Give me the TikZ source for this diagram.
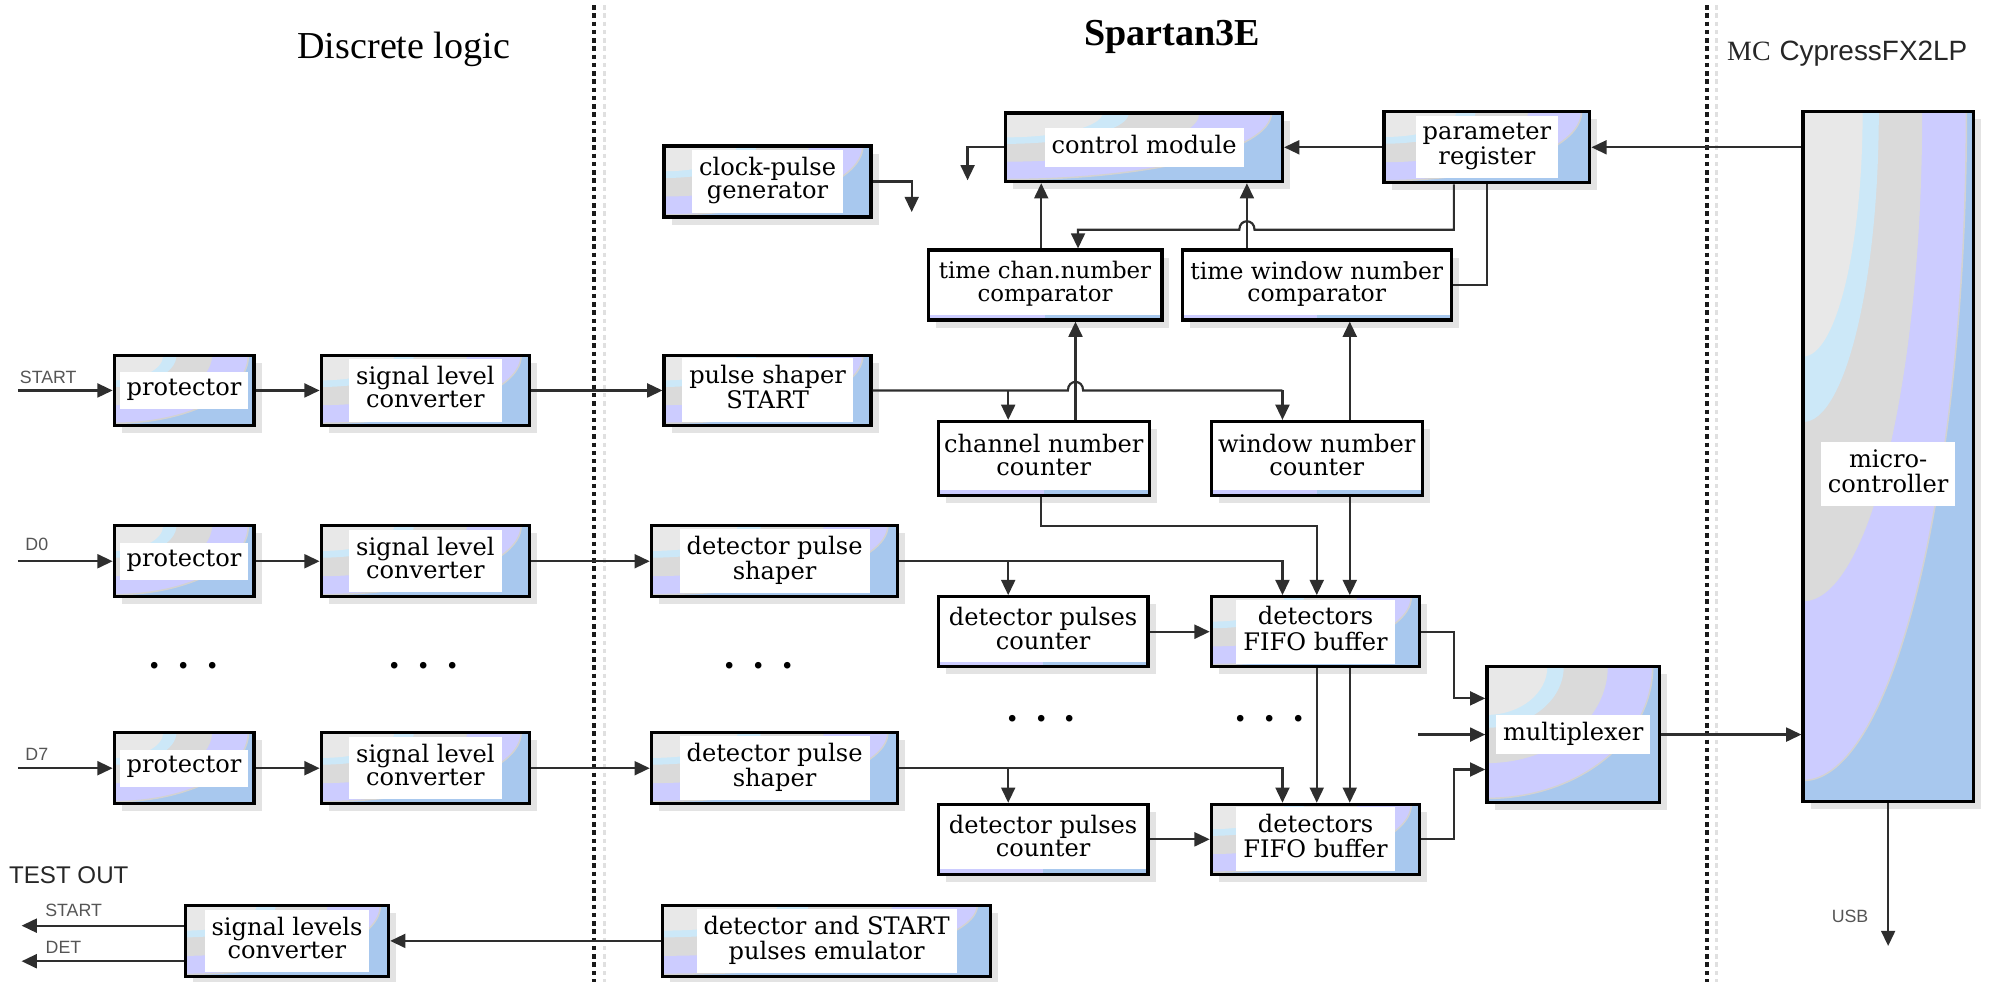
\documentclass[tikz,border=0pt]{standalone}
\usepackage{fontspec}
\setmainfont{DejaVu Serif}
\newfontfamily\timesf{Liberation Serif}
\newfontfamily\sansf{Liberation Sans}
\usetikzlibrary{arrows.meta,shadows,calc}
\definecolor{cblue}{HTML}{A8C8EE}
\definecolor{clav}{HTML}{CCCCFF}
\definecolor{cgr1}{HTML}{E8E8E8}
\definecolor{cgr2}{HTML}{DADADA}
\definecolor{cgrl}{HTML}{D2D2D2}
\definecolor{ccy}{HTML}{CCE8F8}
\definecolor{cline}{HTML}{2E2E2E}
\definecolor{clab}{HTML}{555555}
\newcommand{\bxf}{\fontsize{19}{18}\selectfont}
\newcommand{\wt}[1]{{\setlength{\fboxsep}{5.5pt}\colorbox{white}{\begin{tabular}{@{}c@{}}#1\end{tabular}}}}
\newcommand{\tb}[1]{\begin{tabular}{@{}c@{}}#1\end{tabular}}
\newcommand{\band}[3]{\path[#1] let \p1=(path picture bounding box.north west), \p2=(path picture bounding box.south east) in (\p1) ellipse [x radius={#2*(\x2-\x1)}, y radius={#3*(\y1-\y2)}];}
\newcommand{\swirl}{%
  \fill[cblue] (path picture bounding box.north west) rectangle (path picture bounding box.south east);
  \band{fill=clav,draw=cgrl,line width=1.2pt}{0.96}{0.97}
  \band{fill=cgr2}{0.70}{0.71}
  \band{fill=ccy}{0.445}{0.45}
  \band{fill=cgr1}{0.35}{0.355}}
\newcommand{\wstrip}{%
  \fill[clav] (path picture bounding box.south west) rectangle ([yshift=4pt]path picture bounding box.south);
  \fill[cblue] ([yshift=4pt]path picture bounding box.south) rectangle (path picture bounding box.south east);}
\tikzset{
  fb/.style={rectangle, draw=black, line width=2.6pt, inner sep=0pt, font=\bxf,
    path picture={\swirl},
    drop shadow={shadow xshift=6pt, shadow yshift=-6pt, fill=black!11, opacity=1}},
  wb/.style={rectangle, draw=black, line width=2.6pt, fill=white, inner sep=0pt, font=\bxf,
    path picture={\wstrip},
    drop shadow={shadow xshift=6pt, shadow yshift=-6pt, fill=black!11, opacity=1}},
  ln/.style={draw=cline, line width=1.7pt},
  arr/.style={ln, -{Triangle[length=12pt,width=11pt]}},
  sep/.style={draw=black!90, line width=3.2pt, dash pattern=on 3.5pt off 3pt},
  sepsh/.style={draw=black!12, line width=2.5pt, dash pattern=on 3.5pt off 3pt},
  lab/.style={font=\sansf\fontsize{14}{14}\selectfont, text=clab, inner sep=0pt},
  dotf/.style={font=\bfseries\fontsize{28}{28}\selectfont, inner sep=0pt},
}
\begin{document}
\begin{tikzpicture}[x=1pt,y=-1pt]
\useasboundingbox (0,0) rectangle (1568,773);
% separators
\draw[sepsh] (476,4) -- (476,773);
\draw[sepsh] (1352,4) -- (1352,773);
\draw[sep] (468,4) -- (468,773);
\draw[sep] (1344,4) -- (1344,773);
% titles
\node[font=\timesf\fontsize{30}{30}\selectfont] (tDL) at (318,39) {Discrete logic};
\node[font=\timesf\bfseries\fontsize{30}{30}\selectfont] (tSP) at (923,29) {Spartan3E};
\node[anchor=west, font=\fontsize{22}{22}\selectfont, text=black!85, inner sep=0pt] (tMC) at (1360,42) {{\timesf MC} {\sansf CypressFX2LP}};
\node[anchor=west, font=\sansf\fontsize{19}{19}\selectfont, text=black!85, inner sep=0pt] (tTO) at (7,689) {TEST OUT};
% left column
\node[fb, minimum width=110pt, minimum height=55pt] (p1) at (145,307.5) {\wt{protector}};
\node[fb, minimum width=164pt, minimum height=55pt] (s1) at (335,307.5) {\wt{signal level\\converter}};
\node[fb, minimum width=110pt, minimum height=56pt] (p2) at (145,442) {\wt{protector}};
\node[fb, minimum width=164pt, minimum height=56pt] (s2) at (335,442) {\wt{signal level\\converter}};
\node[fb, minimum width=110pt, minimum height=56pt] (p3) at (145,605) {\wt{protector}};
\node[fb, minimum width=164pt, minimum height=56pt] (s3) at (335,605) {\wt{signal level\\converter}};
\node[fb, minimum width=160pt, minimum height=56pt] (slsc) at (226,741) {\wt{signal levels\\converter}};
% spartan column
\node[fb, minimum width=163pt, minimum height=56pt] (clk) at (604.5,143) {\wt{clock-pulse\\generator}};
\node[fb, minimum width=163pt, minimum height=55pt] (psS) at (604.5,307.5) {\wt{pulse shaper\\START}};
\node[fb, minimum width=194pt, minimum height=56pt] (dps1) at (610,442) {\wt{detector pulse\\shaper}};
\node[fb, minimum width=194pt, minimum height=56pt] (dps2) at (610,605) {\wt{detector pulse\\shaper}};
\node[fb, minimum width=258pt, minimum height=56pt] (emul) at (651,741) {\wt{detector and START\\pulses emulator}};
\node[fb, minimum width=218pt, minimum height=54pt] (ctrl) at (901,116) {\wt{control module}};
\node[fb, minimum width=162pt, minimum height=56pt] (preg) at (1171,116) {\wt{parameter\\register}};
\node[wb, minimum width=184pt, minimum height=55pt, font=\fontsize{18}{18}\selectfont] (tcc) at (823,224.5) {\tb{time chan.number\\comparator}};
\node[wb, minimum width=212pt, minimum height=55pt, font=\fontsize{18.5}{18}\selectfont] (twc) at (1037,224.5) {\tb{time window number\\comparator}};
\node[wb, minimum width=166pt, minimum height=58pt] (cnc) at (822,361) {\tb{channel number\\counter}};
\node[wb, minimum width=166pt, minimum height=58pt] (wnc) at (1037,361) {\tb{window number\\counter}};
\node[wb, minimum width=165pt, minimum height=55pt] (dpc1) at (821.5,497.5) {\tb{detector pulses\\counter}};
\node[fb, minimum width=164pt, minimum height=55pt] (fifo1) at (1036,497.5) {\wt{detectors\\FIFO buffer}};
\node[wb, minimum width=165pt, minimum height=55pt] (dpc2) at (821.5,661) {\tb{detector pulses\\counter}};
\node[fb, minimum width=164pt, minimum height=55pt] (fifo2) at (1036,661) {\wt{detectors\\FIFO buffer}};
\node[fb, minimum width=136pt, minimum height=107pt] (mux) at (1239,578.5) {\wt{multiplexer}};
\node[fb, minimum width=134pt, minimum height=543pt] (mc) at (1487,359.5) {};
\node[font=\bxf, inner sep=0pt] (mctxt) at ([yshift=-14pt]mc.center) {\wt{micro-\\controller}};
% dots
\node[dotf] (d1) at (144.5,524) {. . .};
\node[dotf] (d2) at (333.5,524) {. . .};
\node[dotf] (d3) at (597.5,524) {. . .};
\node[dotf] (d4) at (820,566) {. . .};
\node[dotf] (d5) at (1000,566) {. . .};
% guides
\coordinate (gA) at (794,0);
\coordinate (gB) at (847,0);
\coordinate (gC) at (820,0);
\coordinate (gD) at (849,0);
\coordinate (gE) at (982,0);
\coordinate (gF) at (1063,0);
\coordinate (gG) at (1037,0);
\coordinate (gH) at (1010,0);
\coordinate (gI) at (1145,0);
\coordinate (gJ) at (1171,0);
\coordinate (hY1) at (0,181);
\coordinate (hY2) at (0,414);
% inputs
\coordinate (inS) at (14,307.5);
\coordinate (in0) at (14,442);
\coordinate (in7) at (14,605);
\node[lab] (lS) at (38,297) {START};
\node[lab] (l0) at (29,429) {D0};
\node[lab] (l7) at (29,594) {D7};
\draw[arr] (inS) -- (p1.west);
\draw[arr] (in0) -- (p2.west);
\draw[arr] (in7) -- (p3.west);
\draw[arr] (p1.east) -- (s1.west);
\draw[arr] (p2.east) -- (s2.west);
\draw[arr] (p3.east) -- (s3.west);
\draw[arr] (s1.east) -- (psS.west);
\draw[arr] (s2.east) -- (dps1.west);
\draw[arr] (s3.east) -- (dps2.west);
% test out
\coordinate (oS) at (17,729);
\coordinate (oD) at (17,757);
\node[lab] (lOS) at (58,717) {START};
\node[lab] (lOD) at (50,746) {DET};
\draw[arr] (slsc.west |- oS) -- (oS);
\draw[arr] (slsc.west |- oD) -- (oD);
\draw[arr] (emul.west) -- (slsc.east);
% clock & control
\coordinate (clkd) at (718,167);
\draw[arr] (clk.east) -| (clkd);
\coordinate (ctrld) at (762,142);
\draw[arr] (ctrl.west) -| (ctrld);
\draw[arr] (preg.west) -- (ctrl.east);
\draw[arr] (mc.west |- preg.east) -- (preg.east);
\draw[arr] (gC |- tcc.north) -- (gC |- ctrl.south);
\draw[arr] (gE |- twc.north) -- (gE |- ctrl.south);
% parameter register to comparators
\coordinate (cr1) at (gE |- hY1);
\draw[arr] (gI |- preg.south) -- (gI |- hY1) -- ([xshift=6pt]cr1) .. controls +(0,-9) and +(0,-9) .. ([xshift=-6pt]cr1) -- (gD |- hY1) -- (gD |- tcc.north);
\draw[ln] (gJ |- preg.south) |- (twc.east);
% counters to comparators
\draw[arr] (gB |- cnc.north) -- (gB |- tcc.south);
\draw[arr] (gF |- wnc.north) -- (gF |- twc.south);
% pulse shaper START line
\coordinate (cr2) at (gB |- psS.east);
\draw[ln] (psS.east) -- ([xshift=-6pt]cr2) .. controls +(0,-9) and +(0,-9) .. ([xshift=6pt]cr2) -- (gH |- psS.east);
\draw[arr] (gH |- psS.east) -- (gH |- wnc.north);
\draw[arr] (gA |- psS.east) -- (gA |- cnc.north);
% counters to FIFO1
\coordinate (cr3) at (gG |- hY2);
\draw[arr] (gC |- cnc.south) |- (cr3) -- (gG |- fifo1.north);
\draw[arr] (gF |- wnc.south) -- (gF |- fifo1.north);
% detector lines
\draw[arr] (dps1.east) -| (gH |- fifo1.north);
\draw[arr] (gA |- dps1.east) -- (gA |- dpc1.north);
\draw[arr] (dps2.east) -| (gH |- fifo2.north);
\draw[arr] (gA |- dps2.east) -- (gA |- dpc2.north);
\draw[arr] (dpc1.east) -- (fifo1.west);
\draw[arr] (dpc2.east) -- (fifo2.west);
\draw[arr] (gG |- fifo1.south) -- (gG |- fifo2.north);
\draw[arr] (gF |- fifo1.south) -- (gF |- fifo2.north);
% multiplexer
\coordinate (mi1) at (1145,550);
\coordinate (mi2) at (1117,578.5);
\coordinate (mi3) at (1145,606);
\draw[arr] (fifo1.east) -| (mi1) -- (mi1 -| mux.west);
\draw[arr] (mi2) -- (mi2 -| mux.west);
\draw[arr] (fifo2.east) -| (mi3) -- (mi3 -| mux.west);
\draw[arr] (mux.east) -- (mux.east -| mc.west);
% USB
\coordinate (usb) at (1487,745);
\draw[arr] (mc.south) -- (usb);
\node[lab] (lU) at (1457,722) {USB};
\end{tikzpicture}
\end{document}
